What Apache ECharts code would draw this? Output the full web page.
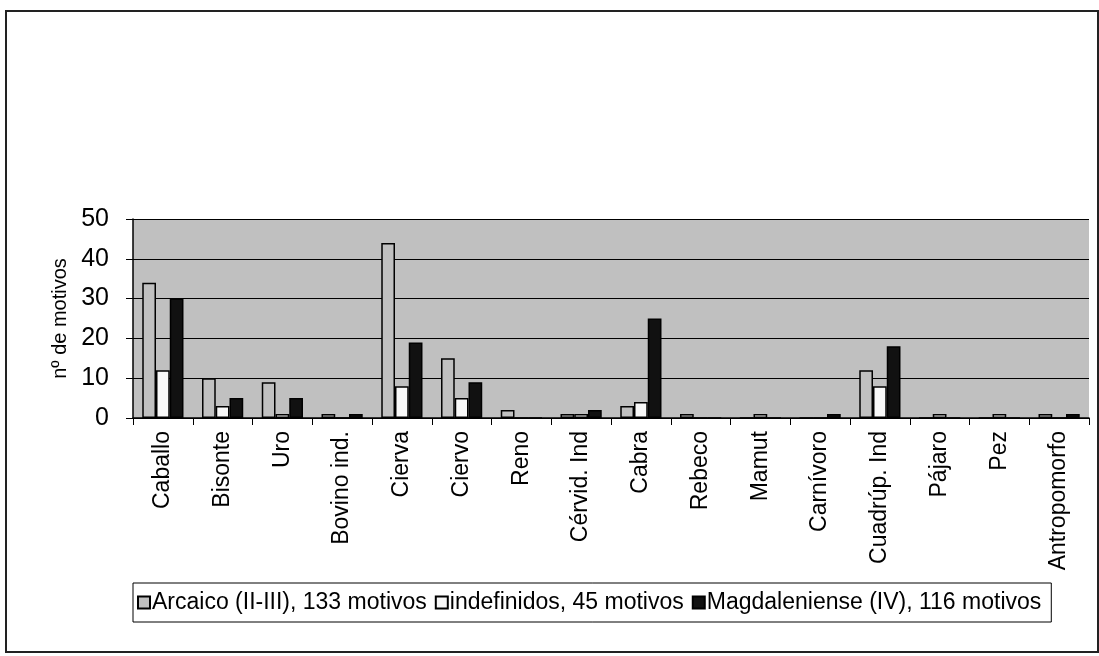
<!DOCTYPE html>
<html>
<head>
<meta charset="utf-8">
<script src="https://cdn.jsdelivr.net/npm/echarts@6/dist/echarts.min.js"></script>
<style>
html,body{margin:0;padding:0;background:#fff;}
#chart{width:1099px;height:656px;}
</style>
</head>
<body>
<div id="chart"></div>
<script>
const categories = ["Caballo","Bisonte","Uro","Bovino ind.","Cierva","Ciervo","Reno","Cérvid. Ind","Cabra","Rebeco","Mamut","Carnívoro","Cuadrúp. Ind","Pájaro","Pez","Antropomorfo"];
const arcaico = [34,10,9,1,44,15,2,1,3,1,0,0,12,0,0,1];
const indefinidos = [12,3,1,0,8,5,0,1,4,0,1,0,8,1,1,0];
const magdaleniense = [30,5,5,1,19,9,0,2,25,0,0,1,18,0,0,1];
const seriesNames = ["Arcaico (II-III), 133 motivos","indefinidos, 45 motivos","Magdaleniense (IV), 116 motivos"];
const yTicks = [0,10,20,30,40,50];

const font = "'Liberation Sans', Arial, sans-serif";
const chart = echarts.init(document.getElementById('chart'));
function bar(name, data, color){
  return {
    name, type:'bar', data,
    barGap:'0%', barCategoryGap:'31%',
    itemStyle:{color, borderColor:'#000', borderWidth:1.5},
    emphasis:{disabled:true}
  };
}
chart.setOption({
  animation:false,
  backgroundColor:'#fff',
  textStyle:{fontFamily:font},
  graphic:[{
    type:'rect', shape:{x:6,y:11,width:1092,height:641},
    style:{fill:'none',stroke:'#222',lineWidth:2}, silent:true, z:-1
  }],
  grid:{left:133,right:10,top:219,bottom:238,show:true,backgroundColor:'#c0c0c0',borderWidth:0},
  legend:{
    left:133, top:583, width:1000,
    backgroundColor:'#fff', borderColor:'#000', borderWidth:1,
    padding:[8,10,8,4],
    icon:'rect', itemWidth:12, itemHeight:12, itemGap:8,
    textStyle:{fontSize:23,color:'#000',fontFamily:font,padding:[0,0,0,-3]},
    data:seriesNames
  },
  xAxis:{
    type:'category', data:categories,
    axisLine:{show:true,lineStyle:{color:'#000',width:1.5}},
    axisTick:{show:true,alignWithLabel:false,length:7,lineStyle:{color:'#000'}},
    axisLabel:{rotate:90,fontSize:23,color:'#000',margin:13,interval:0,fontFamily:font},
    splitLine:{show:false}
  },
  yAxis:{
    type:'value', min:yTicks[0], max:yTicks[yTicks.length-1], interval:10,
    name:'nº de motivos', nameLocation:'middle', nameGap:56, nameRotate:90,
    nameTextStyle:{fontSize:20,color:'#000',fontFamily:font},
    axisLine:{show:true,lineStyle:{color:'#000',width:1.5}},
    axisTick:{show:true,length:7,lineStyle:{color:'#000'}},
    axisLabel:{fontSize:25,color:'#000',margin:24,fontFamily:font},
    splitLine:{show:true,lineStyle:{color:'#000',width:1}}
  },
  series:[
    bar(seriesNames[0], arcaico, '#c0c0c0'),
    bar(seriesNames[1], indefinidos, '#f8f8f8'),
    bar(seriesNames[2], magdaleniense, '#111111')
  ]
});
</script>
</body>
</html>
